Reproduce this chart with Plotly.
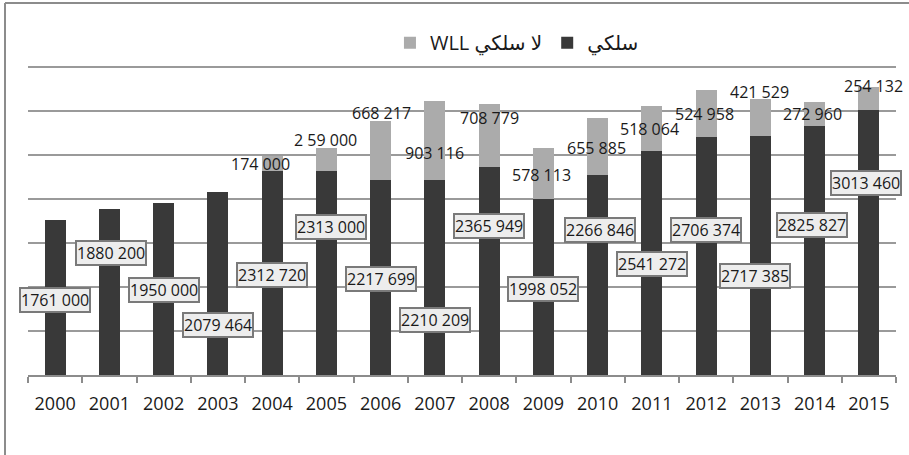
import plotly.graph_objects as go

years = ["2000", "2001", "2002", "2003", "2004", "2005", "2006", "2007",
         "2008", "2009", "2010", "2011", "2012", "2013", "2014", "2015"]
wired = [1761000, 1880200, 1950000, 2079464, 2312720, 2313000, 2217699, 2210209,
         2365949, 1998052, 2266846, 2541272, 2706374, 2717385, 2825827, 3013460]
wireless = [None, None, None, None, 174000, 259000, 668217, 903116,
            708779, 578113, 655885, 518064, 524958, 421529, 272960, 254132]
wired_text = ["1761 000", "1880 200", "1950 000", "2079 464", "2312 720", "2313 000",
              "2217 699", "2210 209", "2365 949", "1998 052", "2266 846", "2541 272",
              "2706 374", "2717 385", "2825 827", "3013 460"]
wireless_text = ["", "", "", "", "174 000", "2 59 000", "668 217", "903 116",
                 "708 779", "578 113", "655 885", "518 064", "524 958", "421 529",
                 "272 960", "254 132"]

# label placements (data units), as positioned in the original chart
wired_label_y = [850000, 1380000, 970000, 570000, 1140000, 1680000, 1090000, 630000,
                 1690000, 975000, 1650000, 1260000, 1650000, 1125000, 1705000, 2180000]
wired_label_dx = [0, 2, 0, 0, 0, 5, 0, 0, 0, 0, 2, 0, 0, -5, -3, -3]
wireless_label_y = [None, None, None, None, 2395000, 2670000, 2974000, 2519000,
                    2917000, 2273000, 2576000, 2795000, 2966000, 3219000, 2962000, 3276000]
wireless_label_dx = [0, 0, 0, 0, -12, -1, 1, 0, 0, -2, -1, -2, -2, -1, -2, 5]

name_wired = "سلكي"
name_wireless = "WLL لا سلكي"

FONT = "Open Sans, DejaVu Sans, sans-serif"

fig = go.Figure()
fig.add_trace(go.Bar(x=years, y=wired, name=name_wired,
                     marker=dict(color="#393939", line=dict(width=0))))
fig.add_trace(go.Bar(x=years, y=wireless, name=name_wireless,
                     marker=dict(color="#ababab", line=dict(width=0))))

annotations = []
for i, (txt, ly, dx) in enumerate(zip(wired_text, wired_label_y, wired_label_dx)):
    annotations.append(dict(x=i, y=ly, xref="x", yref="y", text=txt, showarrow=False,
                            xshift=dx,
                            font=dict(family=FONT, size=16, color="#1a1a1a"),
                            bgcolor="#ededed", bordercolor="#7a7a7a",
                            borderwidth=2, borderpad=0))
for i, (txt, ly, dx) in enumerate(zip(wireless_text, wireless_label_y, wireless_label_dx)):
    if not txt:
        continue
    annotations.append(dict(x=i, y=ly, xref="x", yref="y", text=txt, showarrow=False,
                            xshift=dx,
                            font=dict(family=FONT, size=16, color="#1a1a1a")))

fig.update_layout(
    width=909, height=455,
    margin=dict(l=28, r=13, t=65, b=80),
    paper_bgcolor="white", plot_bgcolor="white",
    barmode="stack", bargap=0.61,
    font=dict(family=FONT, color="#1a1a1a"),
    showlegend=True,
    legend=dict(orientation="h", x=0.417, xanchor="left", y=1.072, yanchor="middle",
                traceorder="reversed", font=dict(family=FONT, size=20, color="#1a1a1a"),
                bgcolor="rgba(0,0,0,0)"),
    annotations=annotations,
    xaxis=dict(type="category", range=[-0.5, 15.5], showgrid=False, showline=True,
               linecolor="#8c8c8c", linewidth=2, ticks="outside", tickson="boundaries",
               ticklen=6, tickcolor="#8c8c8c", tickwidth=1.5, tickangle=0,
               ticklabelstandoff=11,
               tickfont=dict(family=FONT, size=18, color="#1a1a1a")),
    yaxis=dict(range=[0, 3520000], dtick=500000, showgrid=True, gridcolor="#9a9a9a",
               gridwidth=2, showticklabels=False, zeroline=False, showline=False,
               ticks=""),
    shapes=[
        dict(type="line", xref="paper", yref="paper", x0=-0.0265, x1=-0.0265,
             y0=-0.3, y1=1.2, line=dict(color="#8c8c8c", width=2)),
        dict(type="line", xref="paper", yref="paper", x0=-0.0265, x1=1.05,
             y0=1.2, y1=1.2, line=dict(color="#8c8c8c", width=2)),
    ],
)

fig.write_html("out.html", config={"displayModeBar": False},
               post_script="document.body.style.margin='0';document.body.style.overflow='hidden';")
